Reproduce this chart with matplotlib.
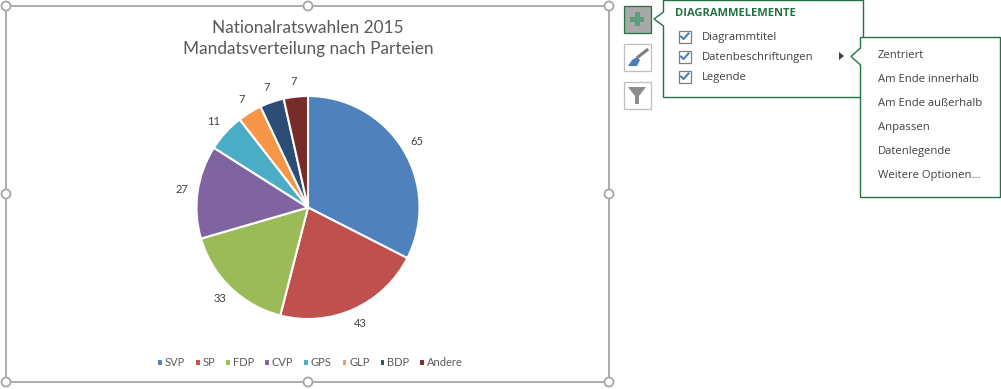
import matplotlib
matplotlib.use('Agg')
import matplotlib.pyplot as plt
from matplotlib.patches import Rectangle, Circle, Polygon

parteien = ['SVP', 'SP', 'FDP', 'CVP', 'GPS', 'GLP', 'BDP', 'Andere']
mandate = [65, 43, 33, 27, 11, 7, 7, 7]
farben = ['#4f81bd', '#c0504d', '#9bbb59', '#8064a2', '#4bacc6', '#f79646', '#2c4d75', '#772c2a']
titel = 'Nationalratswahlen 2015\nMandatsverteilung nach Parteien'
haupt_menu = ['Diagrammtitel', 'Datenbeschriftungen', 'Legende']
unter_menu = ['Zentriert', 'Am Ende innerhalb', 'Am Ende außerhalb', 'Anpassen', 'Datenlegende', 'Weitere Optionen...']

B, H = 1001, 389
plt.rcParams['font.family'] = ['Open Sans', 'DejaVu Sans']
GRAU = '#a6a6a6'
GRUEN = '#217346'
TEXT = '#404040'
CHART_FONT = ['Lato', 'DejaVu Sans']

fig = plt.figure(figsize=(B / 100, H / 100), dpi=100, facecolor='white')

# overlay in pixel coordinates for the excel frame and menus
ui = fig.add_axes([0, 0, 1, 1])
ui.set_xlim(0, B)
ui.set_ylim(H, 0)
ui.axis('off')

# pie, center 308/207.5 radius 111.5
cx, cy, r = 308, 207.5, 111.5
pie = fig.add_axes([(cx - r) / B, 1 - (cy + r) / H, 2 * r / B, 2 * r / H])
wedges, labels = pie.pie(mandate, colors=farben, startangle=90, counterclock=False, radius=1,
                         labels=mandate, labeldistance=1.14,
                         wedgeprops={'edgecolor': 'white', 'linewidth': 1.5},
                         textprops={'fontsize': 8, 'color': TEXT, 'family': CHART_FONT})
pie.set_xlim(-1, 1)
pie.set_ylim(-1, 1)
for t in labels:
    t.set_ha('center')
    t.set_va('center')

ui.text(308, 38.5, titel, ha='center', va='center', fontsize=12.4, color='#595959', linespacing=1.45,
        family=CHART_FONT)

leg = fig.legend(wedges, parteien, loc='center', bbox_to_anchor=(310 / B, 1 - 363 / H), ncol=8, frameon=False,
                 prop={'family': CHART_FONT, 'size': 8}, labelcolor='#595959', handlelength=0.5, handleheight=0.5,
                 handletextpad=0.18, columnspacing=0.9, borderpad=0)

# chart frame with handles
ui.add_patch(Rectangle((6, 6), 603, 376, fill=False, edgecolor=GRAU, linewidth=1.3))
for x in (6, 308, 609):
    for y in (6, 194, 382):
        if x == 308 and y == 194:
            continue
        ui.add_patch(Circle((x, y), 4.5, facecolor='white', edgecolor=GRAU, linewidth=1.3, zorder=3))

# buttons beside the chart
ui.add_patch(Rectangle((623.5, 5.5), 27, 27, facecolor='#a8a8a8', edgecolor=GRUEN, linewidth=0.9))
ui.add_patch(Rectangle((634.5, 12), 5, 14, facecolor='#5a9e7c', edgecolor='none'))
ui.add_patch(Rectangle((630, 16.5), 14, 5, facecolor='#5a9e7c', edgecolor='none'))
ui.add_patch(Rectangle((623.5, 43.5), 27, 27, facecolor='white', edgecolor='#bfbfbf', linewidth=0.9))
ui.add_patch(Polygon([(628, 66), (632, 60), (637, 57), (640, 60), (637, 66)], facecolor='#4a7ebb', edgecolor='none'))
ui.plot([638, 647], [57, 50], color='#7f7f7f', linewidth=2.2)
ui.add_patch(Rectangle((623.5, 81.5), 27, 27, facecolor='white', edgecolor='#bfbfbf', linewidth=0.9))
ui.add_patch(Polygon([(628, 87), (646, 87), (639, 96), (639, 104), (635, 104), (635, 96)], facecolor='#8c8c8c', edgecolor='none'))

# main popup with arrow notch
ui.add_patch(Polygon([(663.5, 0.5), (863.5, 0.5), (863.5, 97.5), (663.5, 97.5), (663.5, 26), (654, 19), (663.5, 12)],
                     facecolor='white', edgecolor=GRUEN, linewidth=1))
ui.text(675, 13.5, 'DIAGRAMMELEMENTE', ha='left', va='center', fontsize=8, fontweight='bold', color=GRUEN)
for y, name in zip((36.5, 56.5, 76.5), haupt_menu):
    ui.add_patch(Rectangle((678.5, y - 6), 12, 12, facecolor='white', edgecolor='#7f7f7f', linewidth=0.9))
    ui.plot([681, 683.5, 688.5], [y, y + 2.5, y - 3], color='#4a7ebb', linewidth=1.5)
    ui.text(702, y + 0.5, name, ha='left', va='center', fontsize=8.1, color=TEXT)
ui.add_patch(Polygon([(839, 52), (844, 56), (839, 60)], facecolor='#404040', edgecolor='none'))

# sub popup
ui.add_patch(Polygon([(860.5, 37.5), (1000.5, 37.5), (1000.5, 197.5), (860.5, 197.5), (860.5, 65), (851, 56.5), (860.5, 48)],
                     facecolor='white', edgecolor=GRUEN, linewidth=1, zorder=4))
for y, name in zip((55, 79, 103, 127, 151, 175), unter_menu):
    ui.text(878, y, name, ha='left', va='center', fontsize=8.1, color=TEXT, zorder=5)

fig.savefig('out.png', dpi=100)
